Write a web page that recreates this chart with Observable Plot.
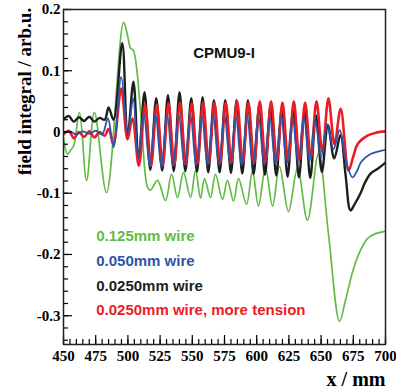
<!DOCTYPE html>
<html><head><meta charset="utf-8">
<script src="https://cdn.jsdelivr.net/npm/d3@7"></script>
<script src="https://cdn.jsdelivr.net/npm/@observablehq/plot@0.6"></script>
<style>body{margin:0;background:#fff;}</style>
</head><body><div id="chart"></div>
<script>
// ---- data (x in mm, field integral in arb.u.) ----
const greenX = [450,453.1,455.5,458,462.4,467.9,474,483.4,496.6,499.7,502,504.3,509.8,515.2,517.5,523,529.2,533.9,538.5,543.2,548.6,552.5,556.4,559.5,564.1,568,573.4,577.3,582,585.9,592.1,596.7,601.4,606.8,612.3,617.7,624.7,631.7,639.4,648,655.7,664.3,668.9,675.2,680.6,686,692.2,700];
const greenY = [-0.010,-0.036,-0.030,-0.022,0.032,-0.079,0.032,-0.099,0.179,0.158,0.137,0.133,0.035,-0.090,-0.095,-0.079,-0.112,-0.069,-0.107,-0.066,-0.107,-0.063,-0.108,-0.076,-0.107,-0.069,-0.110,-0.079,-0.113,-0.076,-0.118,-0.064,-0.121,-0.058,-0.121,-0.056,-0.130,-0.059,-0.144,-0.035,-0.166,-0.309,-0.275,-0.223,-0.193,-0.174,-0.166,-0.162];

const blueX = [450,455,460,465,470,475,480,484.5,488.8,494.8,499.9,504.1,507.9,512.3,517,521.4,526,530.5,535,539.5,544,548.6,553,557.4,561.8,566.2,570.6,575,579.4,583.8,588.2,592.6,597,601.4,605.8,610.2,614.6,619,623.4,627.8,632.2,636.6,641,645.4,650,654.7,659.6,664.5,669,674.4,678.3,681,688.4,694,700];
const blueY = [-0.002,0.001,-0.004,0.001,-0.003,0.002,-0.004,0.022,-0.025,0.090,-0.002,0.055,-0.041,0.030,-0.056,0.030,-0.057,0.028,-0.055,0.027,-0.054,0.028,-0.055,0.027,-0.054,0.028,-0.054,0.027,-0.053,0.026,-0.054,0.026,-0.053,0.025,-0.053,0.024,-0.052,0.026,-0.052,0.025,-0.050,0.025,-0.048,0.021,-0.042,0.013,-0.028,0.003,-0.045,-0.074,-0.062,-0.049,-0.036,-0.032,-0.029];

const blackX = [450,454,458,462,466,470,474,478,482,485,488.8,495.6,499.7,504.3,508.3,512.9,517.4,522,526.6,531.1,535.6,540.1,544.6,549.2,553.6,558,562.4,566.8,571.2,575.6,580,584.4,588.8,593.2,597.6,602,606.4,610.8,615.2,619.6,624,628.4,632.8,637.2,641.6,646,650.6,655.3,660.2,665.1,669,672.8,676,680.6,684,688.4,694,700];
const blackY = [0.020,0.026,0.017,0.024,0.018,0.025,0.017,0.023,0.020,0.040,0.020,0.145,-0.009,0.082,-0.046,0.065,-0.062,0.055,-0.063,0.060,-0.064,0.065,-0.064,0.055,-0.065,0.057,-0.066,0.052,-0.066,0.052,-0.067,0.052,-0.068,0.052,-0.069,0.044,-0.070,0.044,-0.071,0.040,-0.073,0.038,-0.074,0.035,-0.075,0.027,-0.065,0.011,-0.043,-0.005,-0.070,-0.128,-0.118,-0.100,-0.083,-0.068,-0.060,-0.050];

const redX = [450,454,458,462,466,470,474,478,482,485,488.8,494.8,499.7,503.5,508.5,513.3,518,522.4,527,531.5,536,540.5,545,549.6,554,558.4,562.8,567.2,571.6,576,580.4,584.8,589.2,593.6,598,602.4,606.8,611.2,615.6,620,624.4,628.8,633.2,637.6,642,646.4,651,655.7,660.4,665.2,671.3,675,678.3,686,693,700];
const redY = [-0.004,0.002,-0.010,0.000,-0.008,0.001,-0.009,0.000,-0.006,0.005,-0.020,0.071,-0.012,0.022,-0.055,0.045,-0.055,0.045,-0.054,0.047,-0.053,0.048,-0.052,0.047,-0.052,0.048,-0.051,0.048,-0.051,0.048,-0.050,0.050,-0.050,0.048,-0.050,0.050,-0.049,0.050,-0.048,0.048,-0.047,0.050,-0.046,0.048,-0.043,0.050,-0.033,0.055,-0.020,0.038,-0.063,-0.040,-0.020,-0.006,-0.001,0.001];

const seriesNames = ["0.125mm wire","0.050mm wire","0.0250mm wire","0.0250mm wire, more tension"];
const seriesColors = ["#63bb46","#2f54a5","#1e1e1e","#ec1c24"];
const legendY = [-0.1704,-0.2113,-0.2521,-0.2905];
const legendX = 475.4;

const xTicks = [450,475,500,525,550,575,600,625,650,675,700];
const yTicks = [-0.3,-0.2,-0.1,0,0.1,0.2];
const yTickLabels = ["-0.3","-0.2","-0.1","0","0.1","0.2"];
const xMinor = d3.range(450, 701, 5);
const yMinor = d3.range(-0.34, 0.201, 0.02).map(v => +v.toFixed(2));

const title = "CPMU9-I";
const xLabel = "x / mm";
const yLabel = "field integral / arb.u.";

const pts = (xs, ys) => xs.map((x, i) => ({x, y: ys[i]}));
const draw = [
  {d: pts(greenX, greenY), c: seriesColors[0], w: 1.7},
  {d: pts(blackX, blackY), c: seriesColors[2], w: 2.4},
  {d: pts(redX, redY), c: seriesColors[3], w: 2.6},
  {d: pts(blueX, blueY), c: seriesColors[1], w: 1.8}
];

const serif = "'Liberation Serif', 'Times New Roman', serif";
const sans = "'Liberation Sans', Arial, sans-serif";

const plot = Plot.plot({
  width: 396, height: 391,
  marginLeft: 63, marginRight: 11, marginTop: 9, marginBottom: 47,
  x: {domain: [450, 700]},
  y: {domain: [-0.347, 0.2]},
  style: {fontFamily: serif, fontSize: "15px", fontWeight: "bold", color: "#000", background: "#fff"},
  marks: [
    ...draw.map(s => Plot.line(s.d, {x: "x", y: "y", stroke: s.c, strokeWidth: s.w, curve: "catmull-rom", clip: true})),
    Plot.axisX({ticks: xMinor, tickSize: -5, tickFormat: () => "", label: null, strokeWidth: 1.2}),
    Plot.axisX({ticks: xTicks, tickSize: -9, tickPadding: 15, tickFormat: d => String(d), label: null, strokeWidth: 1.2}),
    Plot.axisY({ticks: yMinor, tickSize: -5, tickFormat: () => "", label: null, strokeWidth: 1.2}),
    Plot.axisY({ticks: yTicks, tickSize: -9, tickPadding: 12, tickFormat: d => yTickLabels[yTicks.indexOf(d)], label: null, strokeWidth: 1.2}),
    Plot.frame({stroke: "#222", strokeWidth: 1.5}),
    Plot.text([title], {x: 550.7, y: 0.1294, text: d => d, textAnchor: "start", fontFamily: sans, fontWeight: "bold", fontSize: 15, fill: "#111"}),
    ...seriesNames.map((n, i) => Plot.text([n], {x: legendX, y: legendY[i], text: d => d, textAnchor: "start", fontFamily: sans, fontWeight: "bold", fontSize: 15, fill: seriesColors[i]})),
    Plot.text([yLabel], {frameAnchor: "top-left", dx: -46, dy: 82, rotate: -90, text: d => d, textAnchor: "middle", fontFamily: serif, fontWeight: "bold", fontSize: 19}),
    Plot.text([xLabel], {frameAnchor: "bottom-right", dx: 0, dy: 41, text: d => d, textAnchor: "end", fontFamily: serif, fontWeight: "bold", fontSize: 20})
  ]
});
document.getElementById("chart").appendChild(plot);
</script>
</body></html>
